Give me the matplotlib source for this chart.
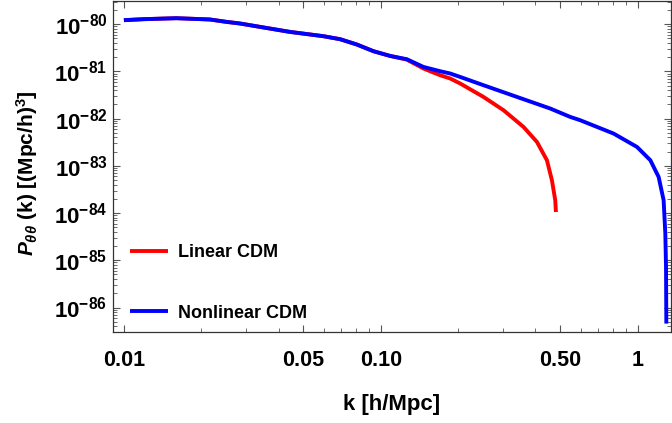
import numpy as np
import matplotlib
matplotlib.use('Agg')
import matplotlib.pyplot as plt
from matplotlib.ticker import FixedLocator, FixedFormatter, LogLocator, NullFormatter

plt.rcParams['font.family'] = 'Liberation Sans'
plt.rcParams['font.weight'] = 'bold'
plt.rcParams['mathtext.fontset'] = 'custom'
plt.rcParams['mathtext.rm'] = 'Liberation Sans:bold'
plt.rcParams['mathtext.it'] = 'Liberation Sans:italic:bold'
plt.rcParams['mathtext.bf'] = 'Liberation Sans:bold'

# values (k in h/Mpc, log10 of P)
k_nl = [0.0100, 0.0119, 0.0160, 0.0216, 0.0251, 0.0283, 0.0339, 0.0443, 0.0598,
        0.0695, 0.0807, 0.0937, 0.1088, 0.1264, 0.1467, 0.1704, 0.1864, 0.2039,
        0.2512, 0.3391, 0.4572, 0.5472, 0.5984, 0.8067, 0.9955, 1.1217, 1.2084,
        1.2638, 1.2831, 1.2912, 1.2948]
logp_nl = [-79.915, -79.894, -79.873, -79.900, -79.951, -79.985, -80.057, -80.163, -80.254,
           -80.318, -80.430, -80.572, -80.672, -80.742, -80.905, -80.996, -81.044, -81.117,
           -81.292, -81.540, -81.786, -81.964, -82.034, -82.316, -82.600, -82.881, -83.235,
           -83.729, -84.434, -85.142, -86.341]

k_lin = [0.0100, 0.0119, 0.0160, 0.0216, 0.0251, 0.0283, 0.0339, 0.0443, 0.0598,
         0.0695, 0.0807, 0.0937, 0.1088, 0.1264, 0.1467, 0.1704, 0.1864, 0.2039,
         0.2512, 0.3008, 0.3598, 0.4059, 0.4438, 0.4642, 0.4782, 0.4812]
logp_lin = [-79.915, -79.894, -79.873, -79.900, -79.951, -79.985, -80.057, -80.163, -80.254,
            -80.318, -80.430, -80.572, -80.672, -80.750, -80.939, -81.081, -81.150, -81.256,
            -81.540, -81.822, -82.176, -82.494, -82.881, -83.305, -83.729, -83.977]

xticks = [0.01, 0.05, 0.10, 0.50, 1]
xtick_labels = ['0.01', '0.05', '0.10', '0.50', '1']
ydecades = list(range(-86, -79))

p_nl = 10.0 ** np.array(logp_nl)
p_lin = 10.0 ** np.array(logp_lin)

fig = plt.figure(figsize=(6.72, 4.23), dpi=100)
ax = fig.add_axes([0.168, 0.215, 0.8305, 0.7825])

ax.plot(k_lin, p_lin, color='#ff0000', lw=2.8, label='Linear CDM', zorder=2,
        solid_joinstyle='round', solid_capstyle='butt')
ax.plot(k_nl, p_nl, color='#0000ff', lw=2.8, label='Nonlinear CDM', zorder=3,
        solid_joinstyle='round', solid_capstyle='butt')

ax.set_xscale('log')
ax.set_yscale('log')
ax.set_xlim(0.00906, 1.35)
ax.set_ylim(10 ** -86.52, 10 ** -79.51)

ax.xaxis.set_major_locator(FixedLocator(xticks))
ax.xaxis.set_major_formatter(FixedFormatter(xtick_labels))
ax.xaxis.set_minor_locator(LogLocator(base=10, subs=np.arange(2, 10), numticks=20))
ax.xaxis.set_minor_formatter(NullFormatter())
ax.yaxis.set_major_locator(FixedLocator([10.0 ** e for e in ydecades]))
ax.yaxis.set_major_formatter(FixedFormatter([r'$\mathbf{10^{%d}}$' % e for e in ydecades]))
ax.yaxis.set_minor_locator(LogLocator(base=10, subs=np.arange(2, 10), numticks=20))
ax.yaxis.set_minor_formatter(NullFormatter())

ax.tick_params(which='both', direction='in', top=True, right=True, color='#555555')
ax.tick_params(which='major', length=5, width=0.8, pad=4)
ax.tick_params(which='minor', length=2.8, width=0.6)
ax.tick_params(axis='x', which='major', pad=13, labelsize=15.5)
ax.tick_params(axis='y', which='major', labelsize=16)
for s in ax.spines.values():
    s.set_color('#333333')
    s.set_linewidth(0.9)

ax.set_xlabel('k [h/Mpc]', fontsize=16, fontweight='bold', va='top')
ax.xaxis.set_label_coords(0.5, -0.188)
ax.set_ylabel(r'$P_{\theta\theta}$ (k) [(Mpc/h)$^3$]', fontsize=15, fontweight='bold')
ax.yaxis.set_label_coords(-0.131, 0.479)

ax.legend(loc='center left', bbox_to_anchor=(0.002, 0.148), frameon=False,
          handlelength=2.1, handletextpad=0.55, labelspacing=2.39,
          prop={'weight': 'bold', 'size': 13})

fig.savefig('out.png', dpi=100)
